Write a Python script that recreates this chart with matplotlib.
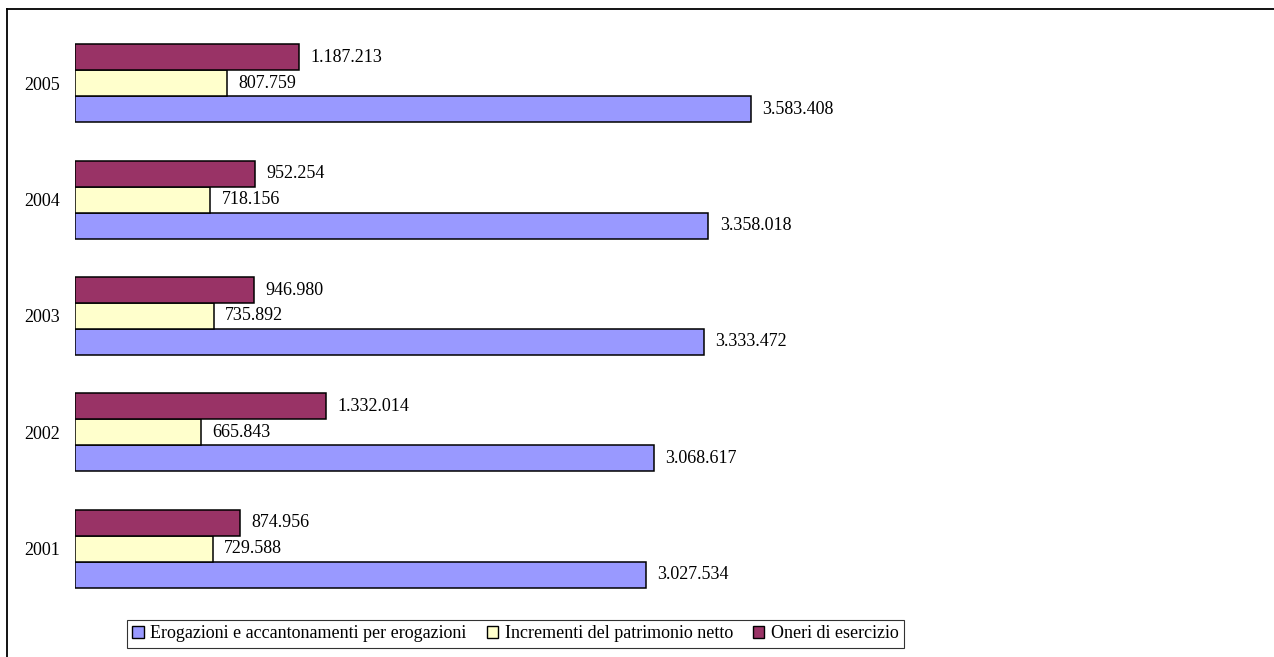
import matplotlib.pyplot as plt
from matplotlib.lines import Line2D
from matplotlib.patches import Patch
import numpy as np

plt.rcParams['font.family'] = ['Liberation Serif', 'DejaVu Serif']

years = ['2001', '2002', '2003', '2004', '2005']
erogazioni = [3027534, 3068617, 3333472, 3358018, 3583408]
incrementi = [729588, 665843, 735892, 718156, 807759]
oneri = [874956, 1332014, 946980, 952254, 1187213]

labels = ['Erogazioni e accantonamenti per erogazioni',
          'Incrementi del patrimonio netto',
          'Oneri di esercizio']
colors = ['#9999FF', '#FFFFCC', '#993366']


def fmt(v):
    # italian thousands separator
    return '{:,}'.format(v).replace(',', '.')


W, H = 1274, 657
fig = plt.figure(figsize=(W / 100, H / 100), dpi=100)
ax = fig.add_axes([75 / W, 1 - 607 / H, (1250 - 75) / W, (607 - 25) / H])

y = np.arange(len(years))
bh = 0.223
series = [erogazioni, incrementi, oneri]
offsets = [-bh, 0, bh]
for vals, off, col in zip(series, offsets, colors):
    ax.barh(y + off, vals, height=bh, color=col, edgecolor='black', linewidth=1.1)
    for yi, v in zip(y, vals):
        ax.text(v + 60000, yi + off, fmt(v), va='center', ha='left', fontsize=13)

ax.set_xlim(0, (1250 - 75) / 1.8865e-4)
ax.set_ylim(-0.5, 4.5)
ax.set_yticks(y)
ax.set_yticklabels(years, fontsize=13)
ax.tick_params(axis='y', length=0, pad=11)
ax.set_xticks([])
for s in ax.spines.values():
    s.set_visible(False)

handles = [Patch(facecolor=c, edgecolor='black', linewidth=1) for c in colors]
leg = fig.legend(handles, labels, loc='center left',
                 bbox_to_anchor=(127 / W, 1 - 634 / H), ncol=3, fontsize=13,
                 frameon=True, fancybox=False, handlelength=0.65, handleheight=0.65,
                 handletextpad=0.35, columnspacing=1.1, borderpad=0.3,
                 borderaxespad=0)
leg.get_frame().set_edgecolor('black')
leg.get_frame().set_linewidth(0.8)

# outer chart border (top and left)
fig.add_artist(Line2D([7 / W, 1], [1 - 9 / H, 1 - 9 / H], color='black', linewidth=1.3))
fig.add_artist(Line2D([7 / W, 7 / W], [0, 1 - 9 / H], color='black', linewidth=1.3))

fig.savefig('out.png', dpi=100)
